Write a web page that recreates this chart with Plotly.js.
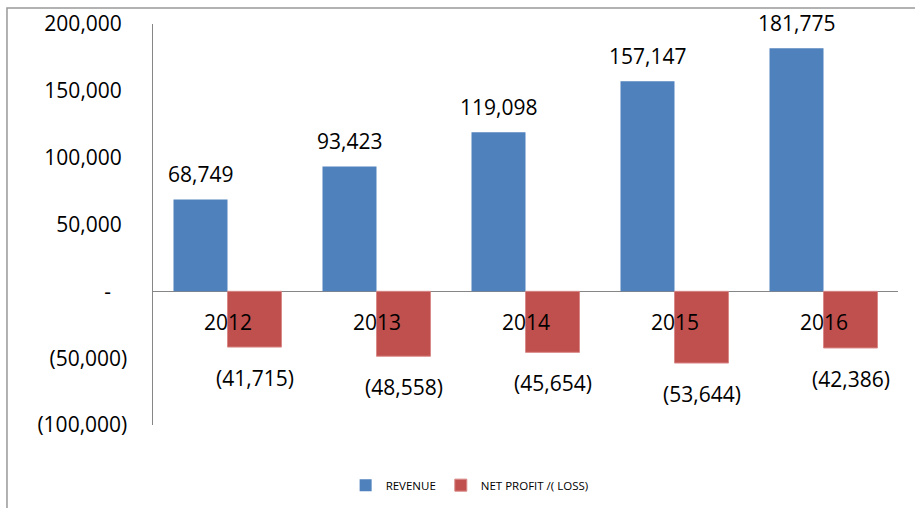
<!DOCTYPE html>
<html>
<head>
<meta charset="utf-8">
<script src="https://cdn.plot.ly/plotly-3.0.1.min.js"></script>
<style>
html,body{margin:0;padding:0;background:#fff;}
#chart{width:915px;height:508px;}
</style>
</head>
<body>
<div id="chart"></div>
<script>
const categories = ["2012", "2013", "2014", "2015", "2016"];
const revenue = [68749, 93423, 119098, 157147, 181775];
const netProfit = [-41715, -48558, -45654, -53644, -42386];
const tickValues = [-100000, -50000, 0, 50000, 100000, 150000, 200000];
const seriesNames = ["REVENUE", "NET PROFIT /( LOSS)"];

function fmt(v) {
  const s = Math.abs(v).toLocaleString("en-US");
  return v < 0 ? "(" + s + ")" : s;
}
function tickFmt(v) {
  if (v === 0) return "-\u00A0\u00A0\u00A0";
  if (v < 0) return fmt(v);
  return fmt(v) + "\u00A0";
}

const FONT = "Open Sans, Liberation Sans, sans-serif";
const barGap = 0.275;
const half = (1 - barGap) / 4;

const annotations = [];
categories.forEach((c, i) => {
  annotations.push({
    x: i - half, y: revenue[i], xref: "x", yref: "y",
    text: fmt(revenue[i]), showarrow: false, yanchor: "bottom", yshift: 9,
    font: {family: FONT, size: 21, color: "#000"}
  });
  annotations.push({
    x: i + half, y: netProfit[i], xref: "x", yref: "y",
    text: fmt(netProfit[i]), showarrow: false, yanchor: "top", yshift: -15,
    font: {family: FONT, size: 21, color: "#000"}
  });
  annotations.push({
    x: i, y: 0, xref: "x", yref: "y",
    text: c, showarrow: false, yanchor: "top", yshift: -15,
    font: {family: FONT, size: 21, color: "#000"}
  });
});

const data = [
  {type: "bar", name: seriesNames[0], x: categories, y: revenue,
   marker: {color: "#4F81BD"}, hoverinfo: "skip"},
  {type: "bar", name: seriesNames[1], x: categories, y: netProfit,
   marker: {color: "#C0504D", line: {color: "#D98A88", width: 1}}, hoverinfo: "skip"}
];

const layout = {
  width: 915, height: 508,
  margin: {l: 153, r: 17, t: 24, b: 83, autoexpand: false},
  paper_bgcolor: "#fff", plot_bgcolor: "#fff",
  barmode: "group", bargap: barGap, bargroupgap: 0,
  showlegend: true,
  legend: {orientation: "h", x: 0.425, xanchor: "center", y: -0.15, yanchor: "middle",
           itemwidth: 30,
           font: {family: FONT, size: 11.5, color: "#000"}, traceorder: "normal"},
  xaxis: {type: "category", showticklabels: false, showline: false, showgrid: false,
          zeroline: false, ticks: "", range: [-0.5, categories.length - 0.5]},
  yaxis: {range: [-100000, 200000], tickvals: tickValues, ticktext: tickValues.map(tickFmt),
          showgrid: false, showline: true, linecolor: "#868686", linewidth: 1.5,
          zeroline: true, zerolinecolor: "#868686", zerolinewidth: 1.5,
          ticks: "", ticklabelstandoff: 20,
          tickfont: {family: FONT, size: 21, color: "#000"}},
  annotations: annotations,
  shapes: [
    {type: "rect", xref: "paper", yref: "paper", x0: -0.196, x1: 1.2, y0: -0.3, y1: 1.04,
     line: {color: "#999", width: 1.5}, fillcolor: "rgba(0,0,0,0)", layer: "below"}
  ]
};

Plotly.newPlot("chart", data, layout, {displayModeBar: false, staticPlot: true});
</script>
</body>
</html>
